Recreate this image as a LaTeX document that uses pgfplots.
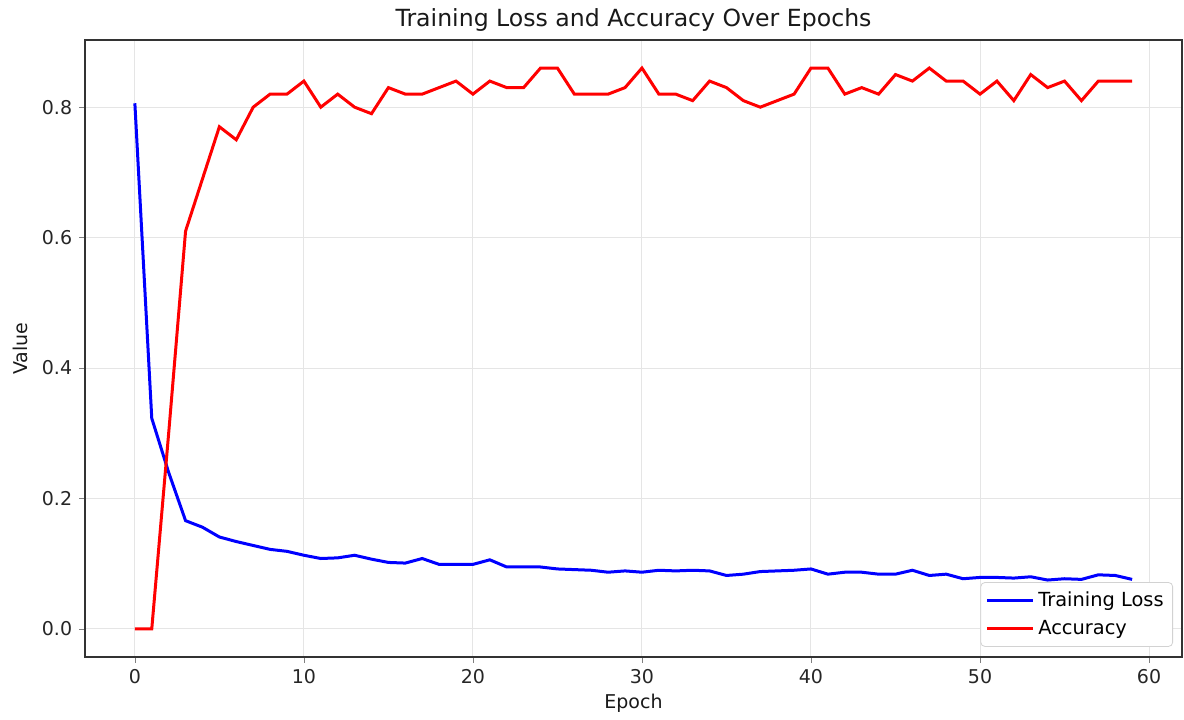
\documentclass[border=0pt]{standalone}
\usepackage{pgfplots}
\pgfplotsset{compat=1.18}
\usepackage{fontspec}
\setmainfont{DejaVu Sans}
\begin{document}
\begin{tikzpicture}
\begin{axis}[
  name=ax,
  scale only axis,
  width=548.5pt, height=308.5pt,
  xmin=-2.95, xmax=61.95,
  ymin=-0.043, ymax=0.903,
  xtick={0,10,20,30,40,50,60},
  ytick={0,0.2,0.4,0.6,0.8},
  yticklabel style={/pgf/number format/.cd,fixed,fixed zerofill,precision=1},
  /pgf/number format/assume math mode=true,
  tick label style={font=\fontsize{9.5}{11}\selectfont, color=black!85},
  tick align=outside,
  xtick pos=bottom, ytick pos=left,
  major tick length=2.9pt,
  grid=major,
  grid style={gray!20, line width=0.5pt},
  axis line style={black!80, line width=0.6pt},
  every axis title shift=0pt,
  title={Training Loss and Accuracy Over Epochs},
  title style={font=\fontsize{11.8}{14}\selectfont, anchor=base, yshift=6.5pt, color=black!90},
  xlabel={Epoch}, ylabel={Value},
  label style={font=\fontsize{9.5}{11}\selectfont, color=black!90},
  xlabel style={yshift=2pt},
  legend style={at={(axis description cs:0.9918,0.0165)}, anchor=south east,
    font=\fontsize{9.7}{12}\selectfont, draw=gray!35, rounded corners=2pt,
    row sep=1.5pt, inner sep=2.5pt},
  legend image code/.code={\draw[#1] (0cm,0cm) -- (0.8cm,0cm);},
  legend cell align=left,
]
\addplot[blue, line width=1.5pt] coordinates {
(0,0.806)(1,0.323)(2,0.240)(3,0.166)(4,0.156)(5,0.141)(6,0.134)(7,0.128)(8,0.122)(9,0.119)
(10,0.113)(11,0.108)(12,0.109)(13,0.113)(14,0.107)(15,0.102)(16,0.101)(17,0.108)(18,0.099)(19,0.099)
(20,0.099)(21,0.106)(22,0.095)(23,0.095)(24,0.095)(25,0.092)(26,0.091)(27,0.090)(28,0.087)(29,0.089)
(30,0.087)(31,0.090)(32,0.089)(33,0.090)(34,0.089)(35,0.082)(36,0.084)(37,0.088)(38,0.089)(39,0.090)
(40,0.092)(41,0.084)(42,0.087)(43,0.087)(44,0.084)(45,0.084)(46,0.090)(47,0.082)(48,0.084)(49,0.077)
(50,0.079)(51,0.079)(52,0.078)(53,0.080)(54,0.075)(55,0.077)(56,0.076)(57,0.083)(58,0.082)(59,0.076)
};
\addlegendentry{Training Loss}
\addplot[red, line width=1.5pt] coordinates {
(0,0)(1,0)(2,0.30)(3,0.61)(4,0.69)(5,0.77)(6,0.75)(7,0.80)(8,0.82)(9,0.82)
(10,0.84)(11,0.80)(12,0.82)(13,0.80)(14,0.79)(15,0.83)(16,0.82)(17,0.82)(18,0.83)(19,0.84)
(20,0.82)(21,0.84)(22,0.83)(23,0.83)(24,0.86)(25,0.86)(26,0.82)(27,0.82)(28,0.82)(29,0.83)
(30,0.86)(31,0.82)(32,0.82)(33,0.81)(34,0.84)(35,0.83)(36,0.81)(37,0.80)(38,0.81)(39,0.82)
(40,0.86)(41,0.86)(42,0.82)(43,0.83)(44,0.82)(45,0.85)(46,0.84)(47,0.86)(48,0.84)(49,0.84)
(50,0.82)(51,0.84)(52,0.81)(53,0.85)(54,0.83)(55,0.84)(56,0.81)(57,0.84)(58,0.84)(59,0.84)
};
\addlegendentry{Accuracy}
\end{axis}
\path (ax.south west) ++(-42.5pt,-29.5pt);
\path (ax.north east) ++(1pt,20pt);
\end{tikzpicture}
\end{document}
